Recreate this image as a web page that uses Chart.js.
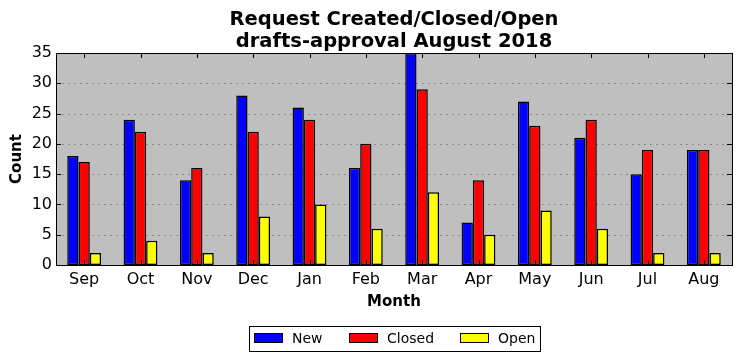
<!DOCTYPE html>
<html>
<head>
<meta charset="utf-8">
<script src="https://cdn.jsdelivr.net/npm/chart.js@4/dist/chart.umd.min.js"></script>
<style>
  html, body { margin: 0; padding: 0; background: #ffffff; }
  #wrap { width: 742px; height: 361px; position: relative; }
</style>
</head>
<body>
<div id="wrap"><canvas id="c" width="742" height="361"></canvas></div>
<script>
const months = ["Sep", "Oct", "Nov", "Dec", "Jan", "Feb", "Mar", "Apr", "May", "Jun", "Jul", "Aug"];
const newCounts = [18, 24, 14, 28, 26, 16, 35, 7, 27, 21, 15, 19];
const closedCounts = [17, 22, 16, 22, 24, 20, 29, 14, 23, 24, 19, 19];
const openCounts = [2, 4, 2, 8, 10, 6, 12, 5, 9, 6, 2, 2];
const titleLines = ["Request Created/Closed/Open", "drafts-approval August 2018"];
const yTicks = [0, 5, 10, 15, 20, 25, 30, 35];

const FONT = "'DejaVu Sans', sans-serif";

const framePlugin = {
  id: 'frame',
  beforeDraw(chart) {
    const {ctx, chartArea: a} = chart;
    ctx.save();
    ctx.fillStyle = '#bfbfbf';
    ctx.fillRect(a.left, a.top, a.right - a.left, a.bottom - a.top);
    ctx.restore();
  },
  beforeDatasetsDraw(chart) {
    const {ctx, chartArea: a} = chart;
    const ys = chart.scales.y;
    ctx.save();
    ctx.strokeStyle = '#8c8c8c';
    ctx.lineWidth = 1;
    ctx.setLineDash([2, 4]);
    ys.ticks.forEach((t, i) => {
      const y = Math.round(ys.getPixelForTick(i)) + 0.5;
      ctx.beginPath();
      ctx.moveTo(a.left, y); ctx.lineTo(a.right, y);
      ctx.stroke();
    });
    ctx.restore();
  },
  afterDraw(chart) {
    const {ctx, chartArea: a} = chart;
    const xs = chart.scales.x, ys = chart.scales.y;
    ctx.save();
    ctx.strokeStyle = '#000';
    ctx.lineWidth = 1;
    ctx.beginPath();
    const tl = 5;
    xs.ticks.forEach((t, i) => {
      const x = Math.round(xs.getPixelForTick(i)) + 0.5;
      ctx.moveTo(x, a.top); ctx.lineTo(x, a.top + tl);
      ctx.moveTo(x, a.bottom); ctx.lineTo(x, a.bottom - tl);
    });
    ys.ticks.forEach((t, i) => {
      const y = Math.round(ys.getPixelForTick(i)) + 0.5;
      ctx.moveTo(a.left, y); ctx.lineTo(a.left + tl, y);
      ctx.moveTo(a.right, y); ctx.lineTo(a.right - tl, y);
    });
    ctx.stroke();
    ctx.strokeRect(Math.round(a.left) + 0.5, Math.round(a.top) + 0.5,
                   Math.round(a.right - a.left), Math.round(a.bottom - a.top));
    const cx = (a.left + a.right) / 2;
    ctx.fillStyle = '#000';
    ctx.font = "bold 19.5px " + FONT;
    ctx.textAlign = 'center';
    ctx.textBaseline = 'middle';
    ctx.fillText(titleLines[0], cx, 19.5);
    ctx.fillText(titleLines[1], cx, 41.5);
    const lx = 249.5, ly = 326.5, lw = 291, lh = 25;
    ctx.fillStyle = '#fff';
    ctx.fillRect(lx, ly, lw, lh);
    ctx.strokeRect(lx, ly, lw, lh);
    const swX = [254, 349, 460];
    ctx.font = "14px " + FONT;
    ctx.textAlign = 'left';
    chart.data.datasets.forEach((ds, i) => {
      ctx.fillStyle = ds.backgroundColor;
      ctx.fillRect(swX[i] + 0.5, 333.5, 28, 9);
      ctx.strokeRect(swX[i] + 0.5, 333.5, 28, 9);
      ctx.fillStyle = '#000';
      ctx.fillText(ds.label, swX[i] + 38, 339);
    });
    ctx.restore();
  }
};

new Chart(document.getElementById('c'), {
  type: 'bar',
  data: {
    labels: months,
    datasets: [
      { label: 'New', data: newCounts, backgroundColor: '#0000ff', borderColor: '#000', borderWidth: 1.5, borderSkipped: false },
      { label: 'Closed', data: closedCounts, backgroundColor: '#ff0000', borderColor: '#000', borderWidth: 1.5, borderSkipped: false },
      { label: 'Open', data: openCounts, backgroundColor: '#ffff00', borderColor: '#000', borderWidth: 1.5, borderSkipped: false }
    ]
  },
  options: {
    responsive: false,
    animation: false,
    layout: { padding: { top: 53, left: 0, right: 10, bottom: 46 } },
    datasets: { bar: { categoryPercentage: 0.6, barPercentage: 1.0 } },
    plugins: {
      legend: { display: false },
      title: { display: false },
      tooltip: { enabled: false }
    },
    scales: {
      x: {
        offset: true,
        grid: { display: false, drawTicks: false },
        border: { display: false },
        ticks: { color: '#000', font: { family: FONT, size: 16 }, padding: 5, maxRotation: 0 },
        title: { display: true, text: 'Month', color: '#000', font: { family: FONT, size: 15, weight: 'bold' }, padding: { top: 4, bottom: 4 } },
        afterFit(s) { s.height = 50; }
      },
      y: {
        min: 0, max: 35,
        afterBuildTicks(s) { s.ticks = yTicks.map(v => ({ value: v })); },
        grid: { display: false, drawTicks: false },
        border: { display: false },
        ticks: { color: '#000', font: { family: FONT, size: 16 }, padding: 4 },
        title: { display: true, text: 'Count', color: '#000', font: { family: FONT, size: 15, weight: 'bold' }, padding: { top: 8, bottom: 4 } },
        afterFit(s) { s.width = 56; }
      }
    }
  },
  plugins: [framePlugin]
});
</script>
</body>
</html>
